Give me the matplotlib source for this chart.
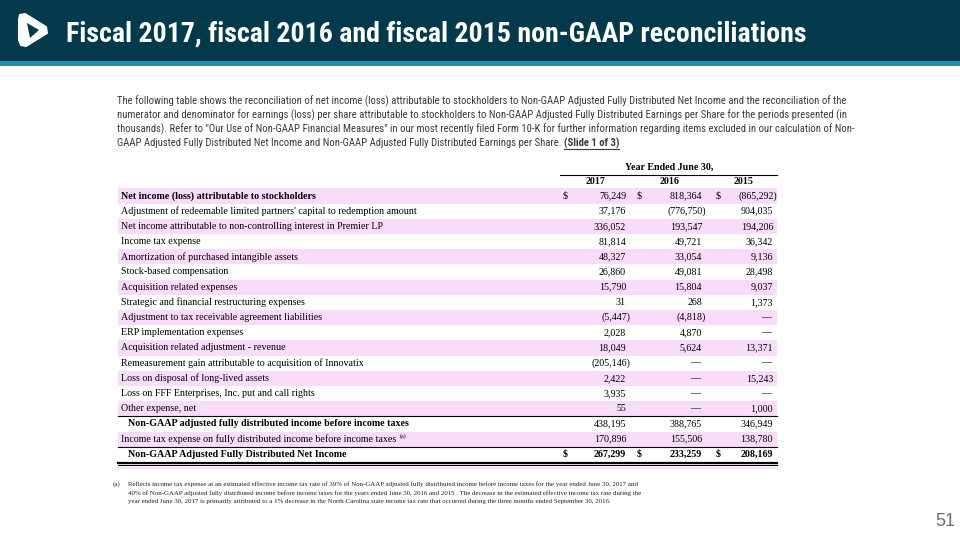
import matplotlib
matplotlib.use('Agg')
import matplotlib.pyplot as plt
from matplotlib import font_manager
from matplotlib.patches import Rectangle, Polygon

# ---- data ----
title = 'Fiscal 2017, fiscal 2016 and fiscal 2015 non-GAAP reconciliations'
intro_lines = [
    'The following table shows the reconciliation of net income (loss) attributable to stockholders to Non-GAAP Adjusted Fully Distributed Net Income and the reconciliation of the',
    'numerator and denominator for earnings (loss) per share attributable to stockholders to Non-GAAP Adjusted Fully Distributed Earnings per Share for the periods presented (in',
    'thousands). Refer to "Our Use of Non-GAAP Financial Measures" in our most recently filed Form 10-K for further information regarding items excluded in our calculation of Non-',
    'GAAP Adjusted Fully Distributed Net Income and Non-GAAP Adjusted Fully Distributed Earnings per Share. ',
]
slide_ref = '(Slide 1 of 3)'
header = 'Year Ended June 30,'
years = ['2017', '2016', '2015']

labels = [
    'Net income (loss) attributable to stockholders',
    "Adjustment of redeemable limited partners' capital to redemption amount",
    'Net income attributable to non-controlling interest in Premier LP',
    'Income tax expense',
    'Amortization of purchased intangible assets',
    'Stock-based compensation',
    'Acquisition related expenses',
    'Strategic and financial restructuring expenses',
    'Adjustment to tax receivable agreement liabilities',
    'ERP implementation expenses',
    'Acquisition related adjustment - revenue',
    'Remeasurement gain attributable to acquisition of Innovatix',
    'Loss on disposal of long-lived assets',
    'Loss on FFF Enterprises, Inc. put and call rights',
    'Other expense, net',
    'Non-GAAP adjusted fully distributed income before income taxes',
    'Income tax expense on fully distributed income before income taxes',
    'Non-GAAP Adjusted Fully Distributed Net Income',
]
fy2017 = [76249, 37176, 336052, 81814, 48327, 26860, 15790, 31, -5447, 2028,
          18049, -205146, 2422, 3935, 55, 438195, 170896, 267299]
fy2016 = [818364, -776750, 193547, 49721, 33054, 49081, 15804, 268, -4818, 4870,
          5624, None, None, None, None, 388765, 155506, 233259]
fy2015 = [-865292, 904035, 194206, 36342, 9136, 28498, 9037, 1373, None, None,
          13371, None, 15243, None, 1000, 346949, 138780, 208169]
bold_rows = [0, 15, 17]
indent_rows = [15, 17]
dollar_rows = [0, 17]
bold_value_rows = [17]
note_row = 16

footnote = [
    'Reflects income tax expense at an estimated effective income tax rate of 39% of Non-GAAP adjusted fully distributed income before income taxes for the year ended June 30, 2017 and',
    '40% of Non-GAAP adjusted fully distributed income before income taxes for the years ended June 30, 2016 and 2015 . The decrease in the estimated effective income tax rate during the',
    'year ended June 30, 2017 is primarily attributed to a 1% decrease in the North Carolina state income tax rate that occurred during the three months ended September 30, 2016.',
]
page_no = '51'


def has_font(name):
    try:
        font_manager.findfont(font_manager.FontProperties(family=name), fallback_to_default=False)
        return True
    except Exception:
        return False


narrow = 'Liberation Sans'
for cand in ['Liberation Sans Narrow', 'Arial Narrow', 'Roboto Condensed']:
    if has_font(cand):
        narrow = cand
        break
serif = 'Liberation Serif'
sans = 'Liberation Sans'

fig = plt.figure(figsize=(9.6, 5.4), dpi=100)
ax = fig.add_axes([0, 0, 1, 1])
ax.set_xlim(0, 960)
ax.set_ylim(540, 0)
ax.axis('off')
renderer = fig.canvas.get_renderer()


def text_w(s, size, family, weight='normal'):
    t = ax.text(0, 0, s, fontsize=size, family=family, weight=weight)
    w = t.get_window_extent(renderer).width
    t.remove()
    return w


def fit(s, width, family, weight='normal'):
    return 10 * width / text_w(s, 10, family, weight)


# ---- header band ----
ax.add_patch(Rectangle((0, 0), 960, 61, color='#023A4B', lw=0))
ax.add_patch(Rectangle((0, 61), 960, 5, color='#1391B6', lw=0))
ax.add_patch(Polygon([(20, 15), (25, 14), (46, 27), (47, 33), (26, 46), (21, 45), (19, 40), (19, 19)],
                     closed=True, fc='white', ec='white', lw=1.5, joinstyle='round'))
ax.add_patch(Polygon([(27, 23), (39, 30), (30, 38)], closed=True, fc='#023A4B', lw=0))

ts = fit(title, 742, narrow, 'bold')
ax.text(66, 42, title, color='white', fontsize=ts, family=narrow, weight='bold', va='baseline')

# ---- intro paragraph ----
isz = fit(intro_lines[1], 726, narrow)
for i, line in enumerate(intro_lines):
    ax.text(117, 101 + 14 * i, line, fontsize=isz, family=narrow, color='#3a3a3a', va='center')
x_end = 117 + text_w(intro_lines[3], isz, narrow)
ax.text(x_end, 143, slide_ref, fontsize=isz, family=narrow, weight='bold', color='#3a3a3a', va='center')
sw = text_w(slide_ref, isz, narrow, 'bold')
ax.plot([x_end, x_end + sw], [148.5, 148.5], color='#3a3a3a', lw=0.8)

# ---- table ----
left, right = 118, 777
top, rh = 188.4, 15.2
fs = fit(labels[1], 295, serif)
pink = '#F9DCF9'

dollar_x = [563, 637, 716]
num_right = [626, 702, 773]
year_cx = [596, 670, 744]

ax.text(669, 167, header, fontsize=fs, family=serif, weight='bold', ha='center', va='center')
ax.plot([560, right], [174.5, 174.5], color='black', lw=0.8)
for cx, yr in zip(year_cx, years):
    ax.text(cx, 181, yr, fontsize=fs, family=serif, weight='bold', ha='center', va='center')


def fmt(v):
    if v is None:
        return '\u2014'
    if v < 0:
        return '({:,})'.format(-v)
    return '{:,}'.format(v)


for i, lab in enumerate(labels):
    y0 = top + rh * i
    yc = y0 + rh / 2
    if i % 2 == 0:
        ax.add_patch(Rectangle((left, y0), right - left, rh, color=pink, lw=0))
    wt = 'bold' if i in bold_rows else 'normal'
    lx = 128 if i in indent_rows else 121
    ax.text(lx, yc, lab, fontsize=fs, family=serif, weight=wt, va='center')
    if i == note_row:
        lw_ = text_w(lab, fs, serif)
        ax.text(lx + lw_ + 4, yc - 3, '(a)', fontsize=fs * 0.6, family=serif, va='center')
    vw = 'bold' if i in bold_value_rows else 'normal'
    for c, col in enumerate([fy2017, fy2016, fy2015]):
        v = col[i]
        xr = num_right[c]
        if v is None:
            xr -= 2
        elif v < 0:
            xr += 4
        ax.text(xr, yc, fmt(v), fontsize=fs, family=serif, weight=vw, ha='right', va='center')
        if i in dollar_rows:
            ax.text(dollar_x[c], yc, '$', fontsize=fs, family=serif, weight=vw, va='center')

# rules
ax.plot([left, right], [top + rh * 15, top + rh * 15], color='black', lw=0.8)
ax.plot([left, right], [top + rh * 17, top + rh * 17], color='black', lw=0.8)
yb = top + rh * 18
ax.plot([left, right], [yb + 0.8, yb + 0.8], color='black', lw=1.6)
ax.plot([left, right], [yb + 3.4, yb + 3.4], color='black', lw=0.8)
ax.plot([left, right], [468, 468], color=pink, lw=1.5)

# ---- footnote ----
fns = fit(footnote[0], 504, serif)
ax.text(113, 484, '(a)', fontsize=fns, family=serif, color='#222222', va='center')
for i, line in enumerate(footnote):
    ax.text(128, 484 + 9 * i, line, fontsize=fns, family=serif, color='#222222', va='center')

ax.text(955, 522, page_no, fontsize=13, family=sans, color='#6d6d6d', ha='right', va='center')

fig.savefig('out.png', dpi=100)
